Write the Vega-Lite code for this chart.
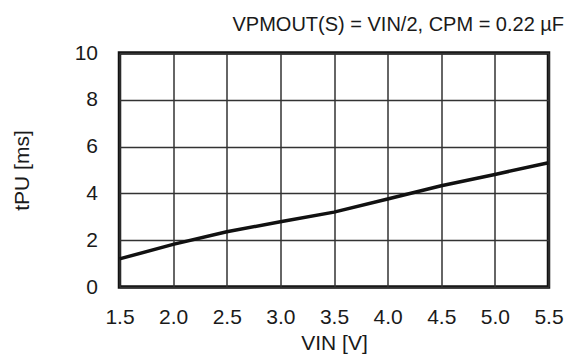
{
  "$schema": "https://vega.github.io/schema/vega-lite/v6.json",
  "width": 429,
  "height": 234,
  "autosize": {"type": "none"},
  "padding": {"left": 119.5, "top": 53, "right": 17.5, "bottom": 69},
  "background": "white",
  "title": {
    "text": "VPMOUT(S) = VIN/2, CPM = 0.22 µF",
    "anchor": "end",
    "orient": "top",
    "fontSize": 20,
    "font": "Liberation Sans",
    "fontWeight": "normal",
    "color": "#1a1a1a",
    "offset": 7,
    "dx": 1
  },
  "config": {
    "font": "Liberation Sans",
    "view": {"stroke": "#111", "strokeWidth": 3.5},
    "axis": {
      "labelFont": "Liberation Sans",
      "titleFont": "Liberation Sans",
      "labelFontSize": 21,
      "titleFontSize": 21,
      "titleFontWeight": "normal",
      "labelColor": "#1a1a1a",
      "titleColor": "#1a1a1a",
      "domain": false,
      "ticks": false,
      "grid": true,
      "gridColor": "#333",
      "gridWidth": 1.5,
      "gridOpacity": 1
    }
  },
  "data": {
    "values": [
      {"vin": 1.5, "tpu": 1.2},
      {"vin": 2.0, "tpu": 1.82},
      {"vin": 2.5, "tpu": 2.36},
      {"vin": 3.0, "tpu": 2.79},
      {"vin": 3.5, "tpu": 3.2},
      {"vin": 4.0, "tpu": 3.76},
      {"vin": 4.5, "tpu": 4.33},
      {"vin": 5.0, "tpu": 4.81},
      {"vin": 5.5, "tpu": 5.31}
    ]
  },
  "mark": {"type": "line", "color": "#111", "strokeWidth": 3.5},
  "encoding": {
    "x": {
      "field": "vin",
      "type": "quantitative",
      "scale": {"domain": [1.5, 5.5], "nice": false, "zero": false},
      "axis": {
        "values": [1.5, 2.0, 2.5, 3.0, 3.5, 4.0, 4.5, 5.0, 5.5],
        "format": ".1f",
        "labelPadding": 19,
        "labelFlush": false,
        "title": "VIN [V]",
        "titlePadding": 5
      }
    },
    "y": {
      "field": "tpu",
      "type": "quantitative",
      "scale": {"domain": [0, 10], "nice": false},
      "axis": {
        "values": [0, 2, 4, 6, 8, 10],
        "labelPadding": 22,
        "labelFlush": false,
        "title": "tPU [ms]",
        "titlePadding": 42
      }
    }
  }
}
